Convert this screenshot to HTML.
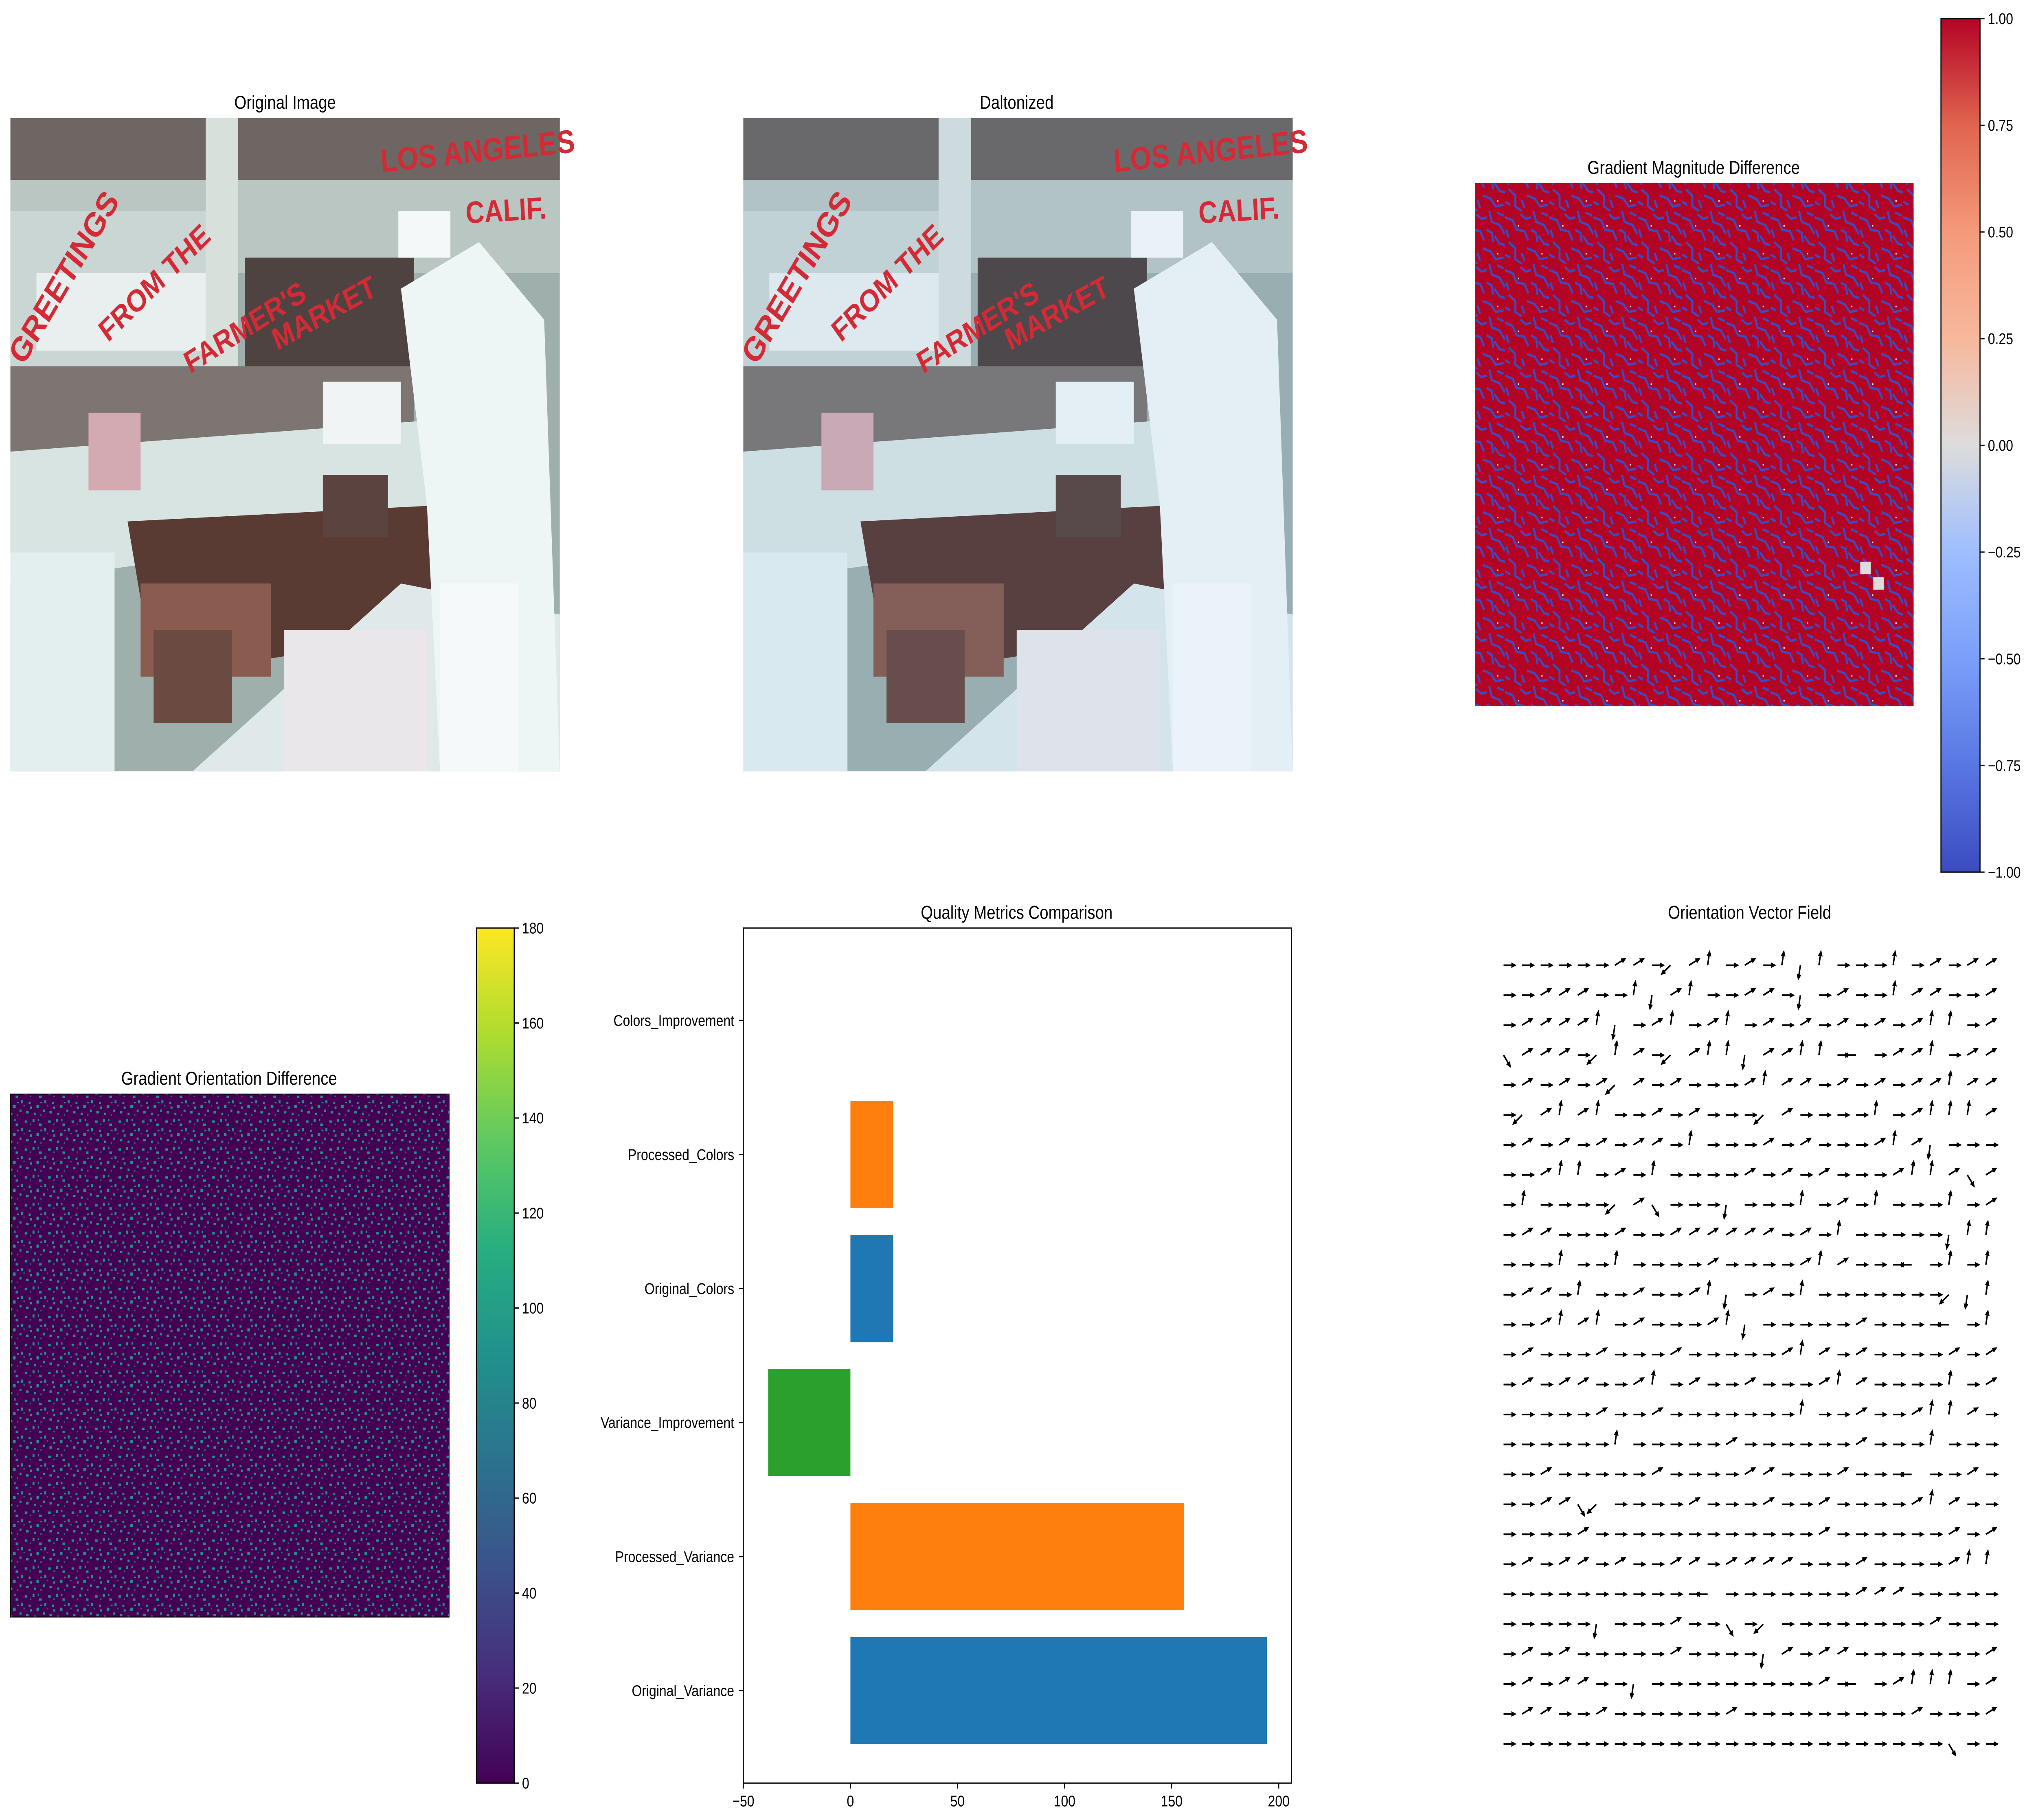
<!DOCTYPE html>
<html><head><meta charset="utf-8"><style>
html,body{margin:0;padding:0;background:#fff;overflow:hidden;width:100vw;height:100vh;}
svg{display:block;width:100vw;height:100vh;font-family:"Liberation Sans","DejaVu Sans",sans-serif;}
</style></head><body>
<svg id="fig" xmlns="http://www.w3.org/2000/svg" viewBox="0 0 1564 1172.8" preserveAspectRatio="none">
<defs>
<pattern id="gmPat" width="34" height="34" patternUnits="userSpaceOnUse">
<rect width="34" height="34" fill="#b40426"/>
<g fill="none" stroke="#3b4cc0" stroke-width="1.5">
<path d="M0 4 L6 6 L9 12 L15 13 L18 19"/><path d="M22 0 L24 7 L30 9 L34 15"/>
<path d="M3 20 L8 24 L8 31 L13 34"/><path d="M17 24 L23 26 L27 31 L33 30"/>
<path d="M12 2 L16 5 L20 4"/><path d="M26 16 L30 21 L34 22"/><path d="M0 28 L4 30"/>
<path d="M1 12 L3 17"/><path d="M20 12 L24 14 L25 20"/><path d="M28 1 L33 3"/><path d="M13 27 L15 32"/>
</g>
<rect x="10" y="9" width="1" height="1" fill="#fff"/><rect x="28" y="27" width="1" height="1" fill="#ddd"/>
</pattern>
<pattern id="goPat" width="18" height="18" patternUnits="userSpaceOnUse">
<rect width="18" height="18" fill="#440154"/>
<g fill="#21918c">
<rect x="1" y="2" width="2" height="1.5"/><rect x="7" y="1" width="1.5" height="2"/><rect x="12" y="4" width="2" height="1.5"/>
<rect x="4" y="8" width="1.5" height="1.5"/><rect x="10" y="10" width="2" height="2"/><rect x="15" y="13" width="1.5" height="1.5"/>
<rect x="2" y="14" width="2" height="1.5"/><rect x="8" y="15" width="1.5" height="1.5"/><rect x="16" y="7" width="1.5" height="2"/>
<rect x="5" y="11" width="1.5" height="1.5"/><rect x="13" y="8" width="1.5" height="1"/><rect x="11" y="1" width="1" height="1.5"/>
</g>
<g fill="#31688e"><rect x="5" y="4" width="1" height="1"/><rect x="13" y="16" width="1" height="1"/><rect x="0" y="10" width="1" height="1"/></g>
</pattern>
<linearGradient id="cw" x1="0" y1="1" x2="0" y2="0">
<stop offset="0" stop-color="#3b4cc0"/><stop offset="0.125" stop-color="#5977e3"/><stop offset="0.25" stop-color="#7b9ff9"/>
<stop offset="0.375" stop-color="#9ebeff"/><stop offset="0.5" stop-color="#dddcdc"/><stop offset="0.625" stop-color="#f7b89c"/>
<stop offset="0.75" stop-color="#f49a7b"/><stop offset="0.875" stop-color="#e0654f"/><stop offset="1" stop-color="#b40426"/>
</linearGradient>
<linearGradient id="vir" x1="0" y1="1" x2="0" y2="0">
<stop offset="0" stop-color="#440154"/><stop offset="0.125" stop-color="#472d7b"/><stop offset="0.25" stop-color="#3b528b"/>
<stop offset="0.375" stop-color="#2c728e"/><stop offset="0.5" stop-color="#21918c"/><stop offset="0.625" stop-color="#28ae80"/>
<stop offset="0.75" stop-color="#5ec962"/><stop offset="0.875" stop-color="#addc30"/><stop offset="1" stop-color="#fde725"/>
</linearGradient>
</defs>
<g id="root">
<text x="219" y="70" font-size="12" text-anchor="middle">Original Image</text>
<text x="781" y="70" font-size="12" text-anchor="middle">Daltonized</text>
<text x="1301" y="112" font-size="12" text-anchor="middle">Gradient Magnitude Difference</text>
<text x="176" y="699" font-size="12" text-anchor="middle">Gradient Orientation Difference</text>
<text x="781" y="592" font-size="12" text-anchor="middle">Quality Metrics Comparison</text>
<text x="1344" y="592" font-size="12" text-anchor="middle">Orientation Vector Field</text>

<g id="photo1"></g>
<g id="photo2"></g>

<rect x="1133" y="118" width="337" height="337" fill="url(#gmPat)"/>
<rect x="1429" y="362" width="8" height="8" fill="#ddd"/><rect x="1439" y="372" width="8" height="8" fill="#ddd"/>
<g id="cb1">
<rect x="1491" y="12" width="30" height="550" fill="url(#cw)" stroke="#000" stroke-width="0.8"/>
</g>

<rect x="8" y="705" width="337" height="337" fill="url(#goPat)" stroke="#000" stroke-width="0.6"/>
<g id="cb2">
<rect x="366" y="598" width="29" height="551" fill="url(#vir)" stroke="#000" stroke-width="0.8"/>
</g>

<g id="bars"></g>
<g id="quiver"></g>
</g>
</svg>

<script>
// ---- Bar chart data ----
const categories = ["Original_Variance","Processed_Variance","Variance_Improvement","Original_Colors","Processed_Colors","Colors_Improvement"];
const values = [194.5, 155.7, -38.4, 20, 20, 0];
const barColors = ["#1f77b4","#ff7f0e","#2ca02c","#1f77b4","#ff7f0e","#1f77b4"];
const xTicks = [-50, 0, 50, 100, 150, 200];
const xTickLabels = ["\u221250","0","50","100","150","200"];

// ---- Colorbar ticks ----
const cb1Ticks = [-1, -0.75, -0.5, -0.25, 0, 0.25, 0.5, 0.75, 1];
const cb1Labels = ["\u22121.00","\u22120.75","\u22120.50","\u22120.25","0.00","0.25","0.50","0.75","1.00"];
const cb2Ticks = [0,20,40,60,80,100,120,140,160,180];

// ---- Quiver angle codes (per row, top to bottom) ----
const quiverRows = [
"rrrrrraarlaurarudurrruraraa","rraaarrudaurraardrarruaarra","raaaaudrauraurararararauura",
"saaarluarlauudaauurbraauraa","rararalararrrauaarararaauaa","rlauaurrararrrlarrrrurauuua",
"rarararaarurrrararrrauadrrr","rrauurarurrrrarararrrauuasar","rurrrrlasrrrdrrrurarurrrura",
"raarrrarraaaaaararurrrrrduuu","rrrurrurrrrarrrrauarrrbruru","raarurrarraudrarurrrrrrrldua",
"rrauaurarrraudrrrrrarrrrbruu","rarrrarrrarrrrrauararrrrarar","raraarraurarrarrrauarrrrura",
"rrrrrarrarrrrrrrurrarrauuars","rrrrrrurrrrrarrrrrrarrrurrr","rrarrrrrarrrraarrrarrrbrrar",
"rraaslrrrrarrrarrarrrrauarr","rrrrarrrrrrrrrrrrarrrrrrara","raraararraaraaaarrrarrrrauu",
"rrrrrrrrrrrbrrrrrrraaarrrrra","rrrrrdrrrarrsrlrrrrrrrrarrr","rararrrrrarrrrdaraarrrrrrra",
"raraarrdrrrrrrrrrarbrauuura","raarrarrrrrrarrrrrrrrrarrra","rrrrrrrrrrrrrrrrrrrrrrrrsrr"
];
const angleMap = {r:0, a:28, u:80, d:-100, l:-140, s:-55, b:180};

const NS = "http://www.w3.org/2000/svg";
function mk(tag, attrs, parent){ const e=document.createElementNS(NS,tag); for(const k in attrs) e.setAttribute(k,attrs[k]); parent.appendChild(e); return e; }

// ---- bar chart ----
(function(){
  const g = document.getElementById('bars');
  const L=571, R=992, T=598, B=1149;
  const xMin=-50, xMax=205.9;
  const xs = v => L + (v-xMin)/(xMax-xMin)*(R-L);
  const yMin=-0.69, yMax=5.69;
  const ys = i => B - (i-yMin)/(yMax-yMin)*(B-T);
  const bh = 0.8*(B-T)/(yMax-yMin);
  categories.forEach((c,i)=>{
    const v = values[i];
    const x0 = xs(Math.min(0,v)), x1 = xs(Math.max(0,v));
    const r = mk('rect',{x:x0,y:ys(i)-bh/2,width:Math.max(x1-x0,0),height:bh,fill:barColors[i]},g);
    
    
    mk('line',{x1:L-3.5,x2:L,y1:ys(i),y2:ys(i),stroke:'#000','stroke-width':0.8},g);
    const t = mk('text',{x:L-7,y:ys(i)+3.5,'font-size':10,'text-anchor':'end'},g);
    t.textContent = c;
    
    
  });
  xTicks.forEach((v,i)=>{
    mk('line',{x1:xs(v),x2:xs(v),y1:B,y2:B+3.5,stroke:'#000','stroke-width':0.8},g);
    const t = mk('text',{x:xs(v),y:B+15,'font-size':10,'text-anchor':'middle'},g);
    t.textContent = xTickLabels[i];
    
    
  });
  mk('rect',{x:L,y:T,width:R-L,height:B-T,fill:'none',stroke:'#000','stroke-width':0.8},g);
})();

// ---- colorbars ----
(function(){
  const g1=document.getElementById('cb1');
  cb1Ticks.forEach((v,i)=>{
    const y = 562 - (v+1)/2*550;
    mk('line',{x1:1521,x2:1524.5,y1:y,y2:y,stroke:'#000','stroke-width':0.8},g1);
    const t=mk('text',{x:1527,y:y+3.5,'font-size':10},g1); t.textContent=cb1Labels[i];
    
    
  });
  const g2=document.getElementById('cb2');
  cb2Ticks.forEach(v=>{
    const y = 1149 - v/180*551;
    mk('line',{x1:395,x2:398.5,y1:y,y2:y,stroke:'#000','stroke-width':0.8},g2);
    const t=mk('text',{x:401,y:y+3.5,'font-size':10},g2); t.textContent=String(v);
    
    
  });
})();

// ---- quiver ----
(function(){
  const g=document.getElementById('quiver');
  const x0=1155, dx=14.25, y0=622, dy=19.3, len=10;
  quiverRows.forEach((row,r)=>{
    [...row].forEach((ch,c)=>{
      if(c>26) return;
      const a = angleMap[ch]*Math.PI/180;
      const cx = x0 + c*dx, cy = y0 + r*dy;
      const ex = cx + len*Math.cos(a), ey = cy - len*Math.sin(a);
      const ux=Math.cos(a), uy=-Math.sin(a);
      const hx=ex-4*ux, hy=ey-4*uy;
      const arrow = mk('g',{},g);
      
      
      mk('line',{x1:cx,y1:cy,x2:hx,y2:hy,stroke:'#000','stroke-width':1.1},arrow);
      mk('polygon',{points:`${ex},${ey} ${hx-1.8*uy},${hy+1.8*ux} ${hx+1.8*uy},${hy-1.8*ux}`,fill:'#000'},arrow);
    });
  });
})();

// ---- photos (approximate composition) ----
function drawPhoto(g, ox, tint){
  const W=422, H=421;
  const R=(x,y,w,h,f,extra)=>{const e=mk('rect',Object.assign({x:ox+x,y:76+y,width:w,height:h,fill:f},extra||{}),g);return e;};
  const P=(pts,f)=>mk('polygon',{points:pts.map((p,i)=>i%2?76+p:ox+p).join(' '),fill:f},g);
  R(0,0,W,H,'#9fb0ac');
  R(0,0,W,40,'#6d6663');
  R(0,40,W,60,'#b9c6c2');
  R(150,0,25,170,'#d8e0dc');
  R(0,60,150,100,'#c9d6d3');
  R(180,90,130,80,'#4e4340');
  R(0,160,310,60,'#7d7572');
  P([0,215,320,195,330,260,0,300],'#d7e4e2');
  P([90,260,320,250,340,330,110,360],'#5a3b33');
  R(0,280,80,141,'#e3eeee');
  R(100,300,100,60,'#8a5b4f');
  R(110,330,60,60,'#6b4a42');
  P([140,421,300,300,422,320,422,421],'#dfe9ea');
  R(210,330,110,91,'#e9e7ea');
  P([300,110,360,80,410,130,422,421,330,421,320,250],'#eef5f5');
  R(298,60,40,30,'#f4f8f8');
  R(240,170,60,40,'#f0f4f5');
  R(20,100,130,50,'#e8efee');
  R(330,300,60,121,'#f6f9f9');
  R(60,190,40,50,'#d4aab2');
  R(240,230,50,40,'#5b4440');
  if(tint) R(0,0,W,H,tint,{opacity:0.06});
  const txt=[["GREETINGS",10,160,-55,22],["FROM THE",75,145,-40,20],["FARMER'S",138,165,-28,20],["MARKET",205,150,-25,20],["LOS ANGELES",285,35,-5,21],["CALIF.",350,68,-3,20]];
  txt.forEach(t=>{
    const e=mk('text',{x:ox+t[1],y:76+t[2],'font-size':t[4],'font-weight':'bold',fill:'#d42a35',transform:`rotate(${t[3]} ${ox+t[1]} ${76+t[2]})`},g);
    e.textContent=t[0];
    
    
  });
}
drawPhoto(document.getElementById('photo1'),8,null);
drawPhoto(document.getElementById('photo2'),571,'#3aa0ff');
</script>
</body></html>
